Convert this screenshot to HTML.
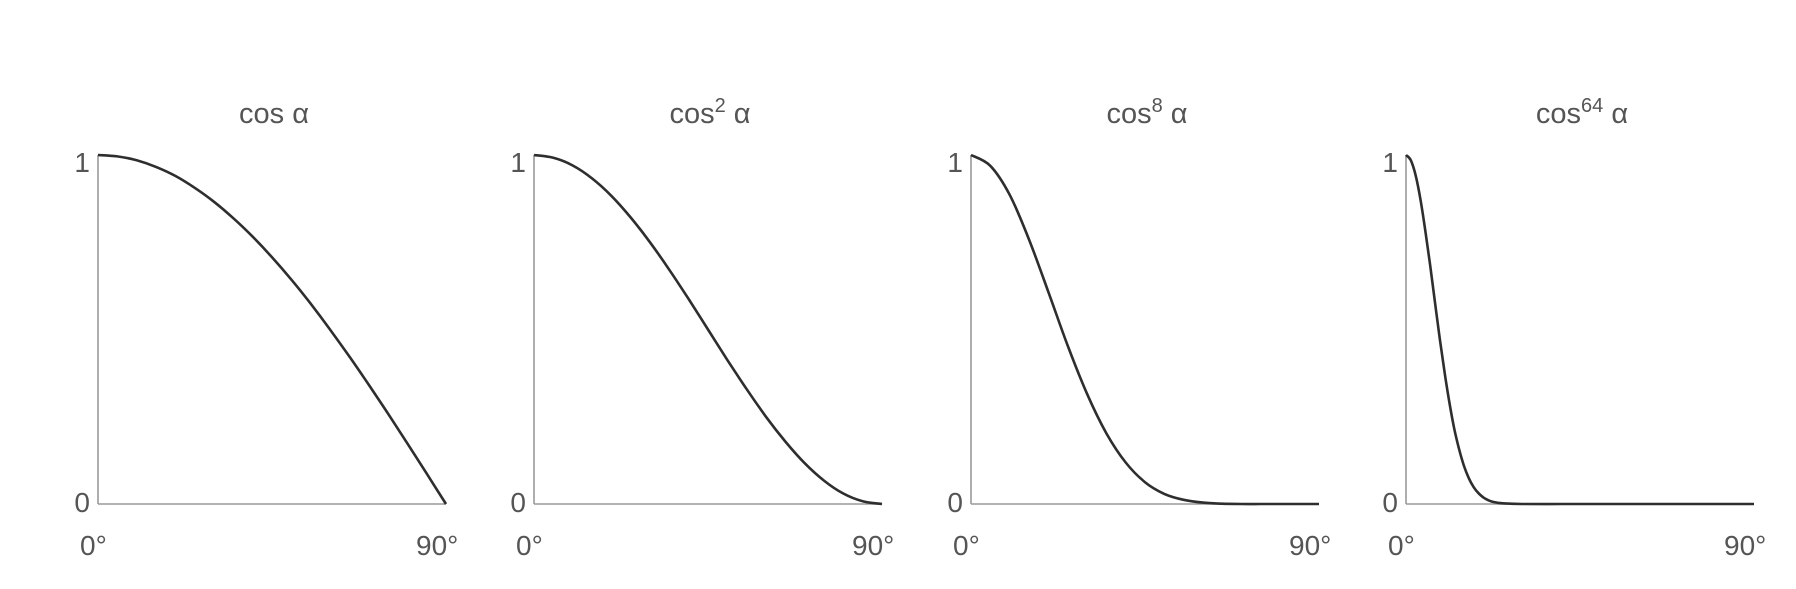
<!DOCTYPE html>
<html><head><meta charset="utf-8"><style>
html,body{margin:0;padding:0;background:#fff;}
svg{display:block;}
text{font-family:"Liberation Sans",sans-serif;fill:#555;}
</style></head><body>
<svg id="chart" width="1796" height="589" viewBox="0 0 1796 589" xmlns="http://www.w3.org/2000/svg"></svg>
<script>
const titles = ["", "2", "8", "64"];
const xA = [0,5,10,15,20,25,30,35,40,45,50,55,60,65,70,75,80,85,90];
const yCos1 = [1,.996,.985,.966,.940,.906,.866,.819,.766,.707,.643,.574,.500,.423,.342,.259,.174,.087,0];
const yCos2 = [1,.992,.970,.933,.883,.821,.750,.671,.587,.500,.413,.329,.250,.179,.117,.067,.030,.008,0];
const yCos8 = [1,.969,.886,.758,.608,.454,.316,.203,.119,.0625,.029,.012,.004,.001,0,0,0,0,0];
const xB = [0,1.25,2.5,3.75,5,6.25,7.5,8.75,10,11.25,12.5,13.75,15,16.25,17.5,18.75,20,21.25,22.5,23.75,25,30,40,50,60,70,80,90];
const yCos64 = [1,.985,.941,.872,.783,.683,.577,.473,.375,.289,.215,.156,.109,.074,.048,.031,.019,.011,.006,.0035,.002,0,0,0,0,0,0,0];
const series = [[xA,yCos1],[xA,yCos2],[xA,yCos8],[xB,yCos64]];
const axisX0 = [98,534,971,1406];
const W = 348, yTop = 155, yBot = 504;
const NS = "http://www.w3.org/2000/svg";
const svg = document.getElementById('chart');
function mk(tag, attrs, parent){const e=document.createElementNS(NS,tag);for(const k in attrs)e.setAttribute(k,attrs[k]);(parent||svg).appendChild(e);return e;}
function smooth(pts){
  let d="M"+pts[0][0].toFixed(1)+","+pts[0][1].toFixed(1);
  for(let i=0;i<pts.length-1;i++){
    const p0=pts[Math.max(i-1,0)],p1=pts[i],p2=pts[i+1],p3=pts[Math.min(i+2,pts.length-1)];
    const c1=[p1[0]+(p2[0]-p0[0])/6,p1[1]+(p2[1]-p0[1])/6];
    const c2=[p2[0]-(p3[0]-p1[0])/6,p2[1]-(p3[1]-p1[1])/6];
    d+=" C"+c1[0].toFixed(1)+","+c1[1].toFixed(1)+" "+c2[0].toFixed(1)+","+c2[1].toFixed(1)+" "+p2[0].toFixed(1)+","+p2[1].toFixed(1);
  }
  return d;
}
series.forEach((s,i)=>{
  const x0=axisX0[i];
  const sx=v=>x0+v/90*W, sy=v=>yBot-v*(yBot-yTop);
  const g=mk('g',{});
  
  
  const ya=mk('line',{x1:x0,y1:yTop,x2:x0,y2:yBot,stroke:'#9a9a9a','stroke-width':1.6},g);
  
  
  const xa=mk('line',{x1:x0,y1:yBot,x2:x0+W,y2:yBot,stroke:'#9a9a9a','stroke-width':1.6},g);
  
  
  const pts=s[0].map((v,k)=>[sx(v),sy(s[1][k])]);
  const p=mk('path',{d:smooth(pts),fill:'none',stroke:'#2e2e2e','stroke-width':2.6,'stroke-linejoin':'round'},g);
  
  
  const t=mk('text',{x:x0+W/2+2,y:123,'font-size':29,'text-anchor':'middle'},g);
  
  
  t.appendChild(document.createTextNode('cos'));
  if(titles[i]){const sup=mk('tspan',{dy:-11,'font-size':20},t);sup.textContent=titles[i];const sp=mk('tspan',{dy:11},t);sp.textContent=' \u03b1';}
  else{const sp=mk('tspan',{},t);sp.textContent=' \u03b1';}
  const l1=mk('text',{x:x0-8,y:yTop+17,'font-size':28,'text-anchor':'end'},g);l1.textContent='1';
  
  
  const l0=mk('text',{x:x0-8,y:yBot+8,'font-size':28,'text-anchor':'end'},g);l0.textContent='0';
  
  
  const x0l=mk('text',{x:x0-18,y:555,'font-size':28},g);x0l.textContent='0\u00b0';
  
  
  const x9l=mk('text',{x:x0+W-30,y:555,'font-size':28},g);x9l.textContent='90\u00b0';
  
  
});
</script>
</body></html>
